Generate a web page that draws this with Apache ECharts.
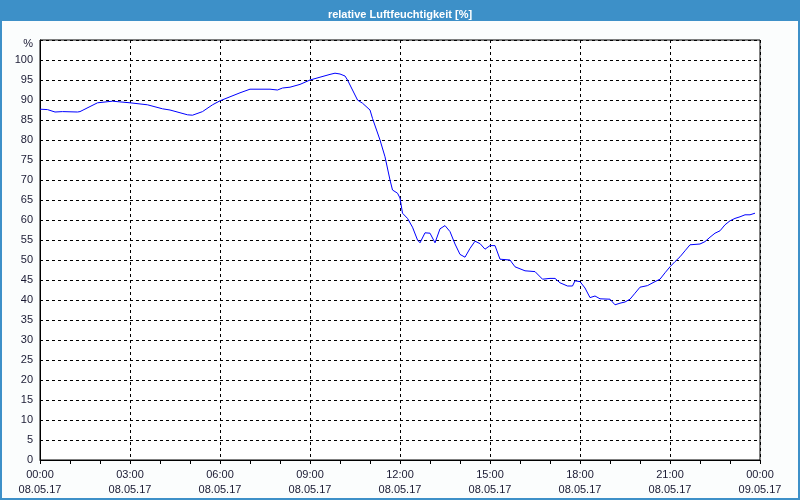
<!DOCTYPE html>
<html>
<head>
<meta charset="utf-8">
<script src="https://cdn.jsdelivr.net/npm/echarts@6/dist/echarts.min.js"></script>
<style>
html,body{margin:0;padding:0;background:#fbfdfd;}
#chart{width:800px;height:500px;}
</style>
</head>
<body>
<div id="chart"></div>
<script>
const titleText = 'relative Luftfeuchtigkeit [%]';
const startDate = '08.05.17';
const endDate = '09.05.17';
const times = ['00:00','00:15','00:30','00:45','01:15','01:20','01:55','02:25','03:00','03:35','04:05','04:20','04:55','05:05','05:25','05:45','06:00','06:20','06:40','07:00','07:40','07:55','08:05','08:20','08:40','09:00','09:20','09:40','09:50','10:00','10:10','10:15','10:25','10:35','10:45','11:00','11:05','11:20','11:30','11:40','11:45','11:55','12:00','12:05','12:15','12:25','12:35','12:40','12:50','13:00','13:10','13:20','13:30','13:40','13:50','14:00','14:10','14:20','14:30','14:40','14:50','15:00','15:10','15:20','15:40','15:50','16:10','16:30','16:45','17:00','17:10','17:20','17:35','17:45','17:50','18:00','18:10','18:20','18:30','18:40','19:00','19:10','19:20','19:30','19:40','19:50','20:00','20:15','20:30','20:40','20:50','21:00','21:10','21:20','21:30','21:40','22:00','22:10','22:20','22:30','22:40','22:50','23:00','23:10','23:20','23:30','23:40','23:50'];
const humidity = [87.7,87.6,87.0,87.1,87.0,87.1,89.3,89.7,89.3,88.8,87.8,87.5,86.3,86.2,87.1,88.8,89.8,90.8,91.8,92.7,92.7,92.5,93.0,93.2,93.9,95.0,95.7,96.4,96.7,96.5,96.0,95.0,92.5,90.0,89.2,87.5,85.4,80.0,75.8,70.0,67.5,66.7,65.5,61.7,60.4,58.2,55.0,54.3,56.8,56.7,54.3,57.8,58.6,57.1,54.0,51.4,50.7,52.9,54.7,54.1,52.7,53.6,53.6,50.2,50.0,48.3,47.3,47.1,45.2,45.4,45.4,44.3,43.5,43.5,44.8,44.6,43.0,40.6,41.0,40.3,40.2,38.8,39.2,39.5,40.2,41.7,43.2,43.6,44.6,45.2,46.8,48.3,49.6,50.8,52.3,53.8,54.0,54.6,55.7,56.7,57.3,58.8,59.8,60.4,60.8,61.3,61.3,61.7];

function toHours(t){const p=t.split(':');return +p[0]+(+p[1])/60;}
const seriesData = times.map((t,i)=>[toHours(t), humidity[i]]);
const font = '"Liberation Sans", Arial, sans-serif';
const txt = '#1a1a33';

const chart = echarts.init(document.getElementById('chart'), null, {renderer:'canvas'});
chart.setOption({
  backgroundColor:'#fbfdfd',
  animation:false,
  graphic:[
    {type:'rect', shape:{x:0,y:0,width:800,height:21}, style:{fill:'#3d90c8'}, silent:true, z:0},
    {type:'rect', shape:{x:1,y:1,width:798,height:498}, style:{fill:null, stroke:'#3d90c8', lineWidth:2}, silent:true, z:0}
  ],
  title:{
    text:titleText, left:'center', top:4,
    textStyle:{color:'#ffffff', fontSize:11, fontWeight:'bold', fontFamily:font}
  },
  grid:{left:40,right:40,top:40,bottom:40,show:true,borderColor:'#000',borderWidth:1,backgroundColor:'#ffffff'},
  xAxis:{
    type:'value', min:0, max:24, interval:3,
    axisLine:{show:true,lineStyle:{color:'#000',width:1}},
    axisTick:{show:true,length:4,lineStyle:{color:'#000'}},
    minorTick:{show:true,splitNumber:3,length:4,lineStyle:{color:'#000'}},
    splitLine:{show:true,lineStyle:{color:'#000',type:[3,3],width:1}},
    axisLabel:{
      margin:7, color:txt, fontSize:11, fontFamily:font, lineHeight:15,
      formatter:function(v){
        const h = v % 24;
        const hh = (h<10?'0':'')+h+':00';
        return hh+'\n'+(v>=24?endDate:startDate);
      }
    }
  },
  yAxis:{
    type:'value', min:0, max:105, interval:5,
    axisLine:{show:true,lineStyle:{color:'#000'}},
    axisTick:{show:false},
    splitLine:{show:true,lineStyle:{color:'#000',type:[3,3],width:1}},
    axisLabel:{
      margin:7, color:txt, fontSize:11, fontFamily:font,
      formatter:function(v){return v>=105?'{p|%}':String(v);},
      rich:{p:{padding:[8,0,0,0], color:txt, fontSize:11, fontFamily:font}}
    }
  },
  series:[{
    type:'line', data:seriesData, showSymbol:false, smooth:false,
    lineStyle:{color:'#0000ff',width:1}
  }]
});
</script>
</body>
</html>
